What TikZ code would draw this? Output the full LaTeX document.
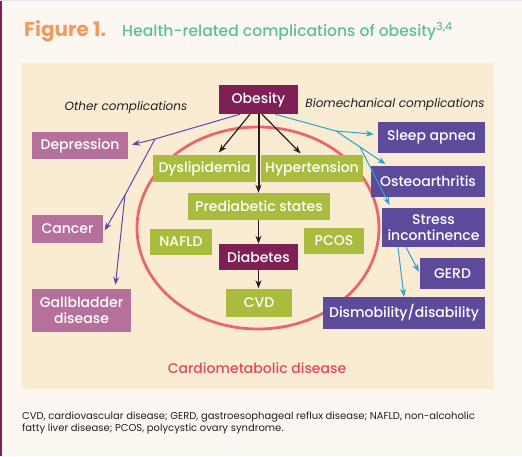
\documentclass[tikz,border=0pt]{standalone}
\usepackage{fontspec}
\setmainfont{Poppins}
\IfFontExistsTF{Poppins Medium}{\newfontfamily\boxfont{Poppins Medium}}{\newfontfamily\boxfont{Poppins}}
\usepackage{xcolor}
\usetikzlibrary{arrows.meta}

\definecolor{pagebg}{HTML}{FCF8F1}
\definecolor{panelbg}{HTML}{FAEBD3}
\definecolor{plum}{HTML}{7E1F56}
\definecolor{olive}{HTML}{A9BC3E}
\definecolor{mauve}{HTML}{B5719B}
\definecolor{violet}{HTML}{5E4A9B}
\definecolor{ringred}{HTML}{E8676C}
\definecolor{cardiored}{HTML}{E04A5C}
\definecolor{figorange}{HTML}{F29A62}
\definecolor{titleteal}{HTML}{5DBE9B}
\definecolor{otherline}{HTML}{5A4AA8}
\definecolor{bioline}{HTML}{2BA5CC}
\definecolor{inkdark}{HTML}{231F20}

\begin{document}
\begin{tikzpicture}[x=1pt, y=-1pt,
    box/.style={text=white, inner sep=0pt, align=center, font=\fontsize{14}{16}\boxfont},
    keybox/.style={box, fill=plum},
    cardiobox/.style={box, fill=olive},
    otherbox/.style={box, fill=mauve},
    biobox/.style={box, fill=violet},
    grouplabel/.style={inkdark, font=\fontsize{12}{14}\selectfont\itshape},
    blackarrow/.style={-{Stealth[length=8pt,width=6pt,inset=2.5pt]}, inkdark, line width=1.2pt},
    otherarrow/.style={-{Stealth[length=8pt,width=6pt,inset=2.5pt]}, otherline, line width=1pt},
    bioarrow/.style={-{Stealth[length=8pt,width=6pt,inset=2.5pt]}, bioline, line width=1pt}
  ]
    % Page and panel
    \fill[pagebg] (0,0) rectangle (522,456);
    \useasboundingbox (0,0) rectangle (522,456);
    \draw[plum, line width=1.5pt] (0.75,0) -- (0.75,456);
    \draw[violet!15, line width=1pt] (0,0.5) -- (522,0.5);
    \fill[panelbg] (22,63) rectangle (494,389);

    % Title
    \node[anchor=base west, inner sep=0pt, figorange, font=\fontsize{20}{22}\selectfont\bfseries] (fig) at (24,36) {Figure 1.};
    \node[anchor=base west, inner sep=0pt, titleteal, font=\fontsize{15.6}{20}\boxfont] (title) at (122,36) {Health-related complications of obesity\textsuperscript{3,4}};

    % Cardiometabolic ring
    \draw[ringred, line width=2.8pt] (258,228) ellipse [x radius=121, y radius=101];
    \node[cardiored, font=\fontsize{14}{16}\boxfont] (cardio) at (257,368) {Cardiometabolic disease};

    % Group labels
    \node[grouplabel] (otherlbl) at (126,107) {Other complications};
    \node[grouplabel] (biolbl) at (395,104) {Biomechanical complications};

    % Central chain
    \node[keybox, minimum width=79pt, minimum height=29pt] (obesity) at (258.5,99.5) {Obesity};
    \node[cardiobox, minimum width=103pt, minimum height=27pt] (dyslip) at (204.5,168.5) {Dyslipidemia};
    \node[cardiobox, minimum width=102pt, minimum height=27pt] (hypert) at (312,168.5) {Hypertension};
    \node[cardiobox, minimum width=142pt, minimum height=27pt] (prediab) at (259,206.5) {Prediabetic states};
    \node[cardiobox, minimum width=62pt, minimum height=26pt] (nafld) at (181,242) {NAFLD};
    \node[cardiobox, minimum width=60pt, minimum height=26pt] (pcos) at (334,241) {PCOS};
    \node[keybox, minimum width=79pt, minimum height=26pt] (diabetes) at (258.5,257) {Diabetes};
    \node[cardiobox, minimum width=66pt, minimum height=28pt] (cvd) at (259,302.5) {CVD};

    % Other complications
    \node[otherbox, minimum width=96pt, minimum height=27pt] (depress) at (80,145.5) {Depression};
    \node[otherbox, minimum width=71pt, minimum height=28pt] (cancer) at (67.5,229) {Cancer};
    \node[otherbox, minimum width=99pt, minimum height=43pt] (gallbl) at (81.5,310.5) {Gallbladder\\disease};

    % Biomechanical complications
    \node[biobox, minimum width=107pt, minimum height=31pt] (sleep) at (431.5,137.5) {Sleep apnea};
    \node[biobox, minimum width=114pt, minimum height=31pt] (osteo) at (428,181.5) {Osteoarthritis};
    \node[biobox, minimum width=103pt, minimum height=39pt] (stress) at (433.5,227.5) {Stress\\incontinence};
    \node[biobox, minimum width=65pt, minimum height=31pt] (gerd) at (452.5,273.5) {GERD};
    \node[biobox, minimum width=162pt, minimum height=32pt] (dismob) at (404,313) {Dismobility/disability};

    % Arrows inside the ring
    \draw[blackarrow, shorten >=3pt] ([xshift=-8.5pt]obesity.south) -- ([xshift=12.5pt]dyslip.north);
    \draw[blackarrow, shorten >=2pt] ([xshift=3.5pt]obesity.south) -- ([xshift=-10pt]hypert.north);
    \draw[blackarrow, line width=2pt] (obesity.south) -- (prediab.north -| obesity.south);
    \draw[blackarrow] (prediab.south -| diabetes.north) -- (diabetes.north);
    \draw[blackarrow] (diabetes.south) -- (cvd.north -| diabetes.south);

    % Arrows to other complications
    \coordinate (ob1) at (155,139);
    \coordinate (ob2) at (125,195);
    \draw[otherline, line width=1pt] ([xshift=-18.5pt]obesity.south) -- (ob1) -- (ob2);
    \draw[otherarrow, shorten >=4pt] (ob1) -- (depress.east);
    \draw[otherarrow, shorten >=3pt] (ob2) -- ([yshift=-4pt]cancer.east);
    \draw[otherarrow, shorten >=4pt] (ob2) -- ([xshift=33.5pt]gallbl.north);

    % Arrows to biomechanical complications
    \coordinate (bm1) at (336,131);
    \coordinate (bm2) at (360,147);
    \draw[bioline, line width=1pt] ([xshift=16.5pt]obesity.south) -- (bm1) -- (bm2);
    \draw[bioarrow, shorten >=4pt] (bm1) -- ([yshift=3pt]sleep.west);
    \draw[bioarrow, shorten >=3pt] (bm2) -- ([xshift=-40pt]osteo.north);
    \draw[bioarrow, shorten >=3pt] (bm2) -- ([xshift=-42.5pt]stress.north);
    \draw[bioarrow] ([xshift=-35.5pt]stress.south) -- (dismob.north);
    \draw[bioarrow, shorten >=2pt] ([xshift=-27.5pt]stress.south) -- (gerd.west);

    % Footnote
    \node[anchor=north west, inner sep=0pt, align=left, inkdark, font=\fontsize{10}{10}\selectfont] (note) at (22,412) {CVD, cardiovascular disease; GERD, gastroesophageal reflux disease; NAFLD, non-alcoholic\\fatty liver disease; PCOS, polycystic ovary syndrome.};
\end{tikzpicture}
\end{document}
